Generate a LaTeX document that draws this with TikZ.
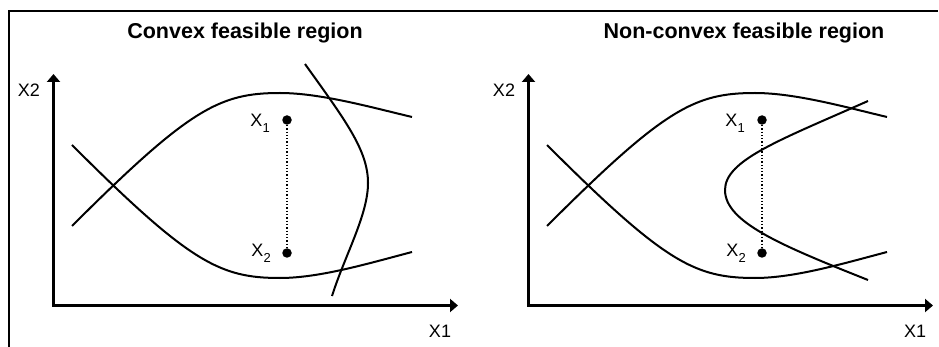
\documentclass[tikz,border=0pt]{standalone}
\usepackage{fontspec}
\setmainfont{Liberation Sans}
\usetikzlibrary{arrows.meta}
\tikzset{
axis/.style={line width=2.7pt,{Triangle[length=8pt,width=13pt]}-{Triangle[length=8pt,width=13pt]}},
curve/.style={line width=2pt},
title/.style={font=\bfseries\fontsize{21.5}{24}\selectfont},
lbl/.style={font=\fontsize{18}{20}\selectfont,inner sep=0pt},
dot/.style={circle,fill,inner sep=0pt,minimum size=9.5pt}
}
\newcommand{\xsub}[1]{X\kern0.3pt\raisebox{-5.5pt}{\fontsize{13}{13}\selectfont #1}}
\begin{document}
\begin{tikzpicture}
[x=1pt,y=-1pt]
\useasboundingbox (0,0) rectangle (939,347);
\draw[line width=2pt] (9.3,347) -- (9.3,11) -- (938,11);
\node[title] (ta) at (245,33) {Convex feasible region};
\node[title] (tb) at (744,33) {Non-convex feasible region};

\coordinate (oa) at (53.5,305.5);
\coordinate (ya) at (53.5,74);
\coordinate (xa) at (458,305.5);
\draw[axis] (ya) -- (oa) -- (xa);
\node[lbl] (x2a) at (29,90) {X2};
\node[lbl] (x1a) at (440,331) {X1};
\draw[curve] (72,145) .. controls (190,263) and (220,278) .. (280,278) .. controls (320,278) and (370,263) .. (412,252);
\draw[curve] (72,226) .. controls (190,108) and (220,93) .. (280,93) .. controls (320,93) and (370,107) .. (412,117);
\draw[curve] (305,64) .. controls (345,120) and (368,150) .. (368,183) .. controls (368,215) and (345,255) .. (332,296);
\node[dot] (p1a) at (287,120) {};
\node[dot] (p2a) at (287,253) {};
\draw[dotted,line width=1.3pt] (p1a) -- (p2a);
\node[lbl,anchor=base east] (l1a) at (270,127) {\xsub{1}};
\node[lbl,anchor=base east] (l2a) at (271,257) {\xsub{2}};

\begin{scope}[xshift=475]
\coordinate (ob) at (53.5,305.5);
\coordinate (yb) at (53.5,74);
\coordinate (xb) at (458,305.5);
\draw[axis] (yb) -- (ob) -- (xb);
\node[lbl] (x2b) at (29,90) {X2};
\node[lbl] (x1b) at (440,331) {X1};
\draw[curve] (72,145) .. controls (190,263) and (220,278) .. (280,278) .. controls (320,278) and (370,263) .. (412,252);
\draw[curve] (72,226) .. controls (190,108) and (220,93) .. (280,93) .. controls (320,93) and (370,107) .. (412,117);
\draw[curve] (393,101) .. controls (305,140) and (250,160) .. (250,190) .. controls (250,222) and (305,245) .. (393,280);
\node[dot] (p1b) at (287,120) {};
\node[dot] (p2b) at (287,253) {};
\draw[dotted,line width=1.3pt] (p1b) -- (p2b);
\node[lbl,anchor=base east] (l1b) at (270,127) {\xsub{1}};
\node[lbl,anchor=base east] (l2b) at (271,257) {\xsub{2}};
\end{scope}
\end{tikzpicture}
\end{document}
